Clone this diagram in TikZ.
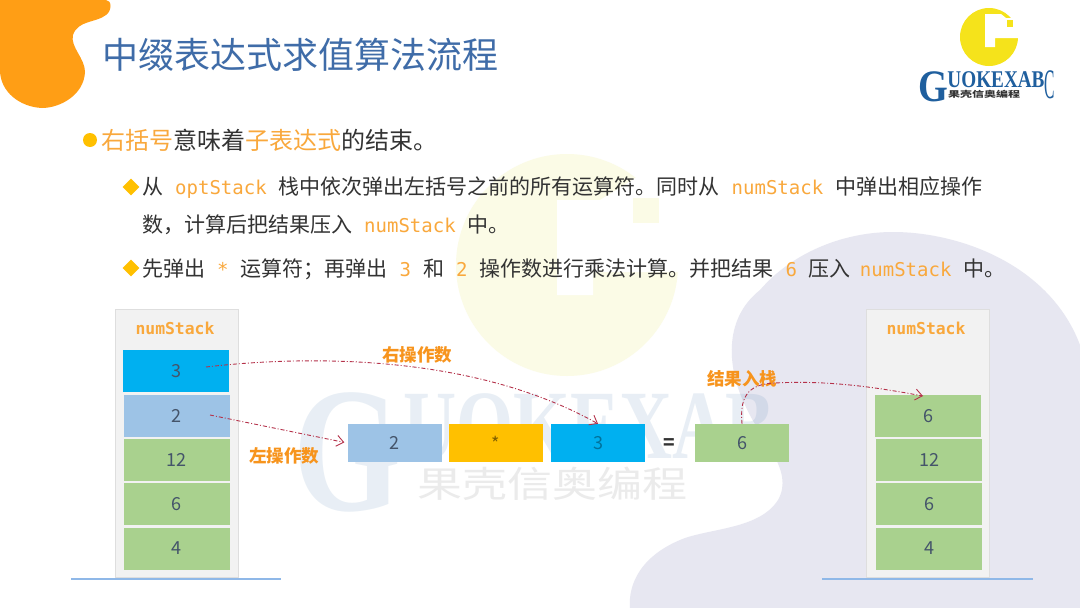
\documentclass[tikz,border=0pt]{standalone}
\usepackage{fontspec}
\setmainfont{Noto Sans CJK SC}
\setmonofont{DejaVu Sans Mono}
\newfontfamily\serifwm{Liberation Serif}
\definecolor{titleblue}{HTML}{3F6CA8}
\definecolor{accent}{HTML}{F9A83C}
\definecolor{blobgray}{HTML}{E7E7F1}
\definecolor{bloborange}{HTML}{FF9E15}
\definecolor{cellblue}{HTML}{00B0F0}
\definecolor{cellpale}{HTML}{9DC3E6}
\definecolor{cellgreen}{HTML}{A9D18E}
\definecolor{cellgold}{HTML}{FFC000}
\definecolor{arrowred}{HTML}{B5324A}
\definecolor{labelorange}{HTML}{F7941D}
\definecolor{logoblue}{HTML}{1F5F9E}
\definecolor{logoyellow}{HTML}{F5E31B}
\definecolor{wmyellow}{HTML}{FBFBE6}
\definecolor{celltext}{HTML}{44546A}
\definecolor{baseblue}{HTML}{8FB8E8}
\usetikzlibrary{arrows.meta,shapes.geometric}
\tikzset{
    stackbox/.style={draw=black!13,fill=black!5,line width=1.2pt,minimum width=123pt,minimum height=268pt,inner sep=0pt},
    cell/.style={minimum width=106pt,minimum height=42pt,inner sep=0pt,text=celltext,font=\fontsize{18}{18}\selectfont},
    opcell/.style={cell,minimum width=94pt,minimum height=38pt},
    stackname/.style={text=accent,font=\ttfamily\bfseries\fontsize{16.4}{16}\selectfont,inner sep=0pt},
    note/.style={text=labelorange,font=\bfseries\fontsize{17.5}{18}\selectfont,inner sep=0pt},
    line1/.style={anchor=base west,inner sep=0pt,text=black!80,font=\fontsize{24}{24}\selectfont},
    line2/.style={anchor=base west,inner sep=0pt,text=black!80,font=\fontsize{21}{21}\selectfont},
    marker/.style={diamond,fill=cellgold,minimum size=17pt,inner sep=0pt},
    wmark/.style={anchor=base,inner sep=0pt,text=logoblue,text opacity=.1},
    logotype/.style={anchor=base,inner sep=0pt,text=logoblue},
    baseline/.style={draw=baseblue,line width=1.1pt},
    flow/.style={draw=arrowred,line width=.9pt,dash pattern=on 4pt off 2pt on 1pt off 2pt,-{Straight Barb[length=7pt,width=11pt]}}
}
\newcommand{\hl}[1]{\textcolor{accent}{#1}}
\newcommand{\code}[1]{\hspace{12pt}\textcolor{accent}{\ttfamily\fontsize{19}{21}\selectfont #1}\hspace{12pt}}
\begin{document}
\begin{tikzpicture}[x=1pt,y=-1pt]
    \useasboundingbox (0,0) rectangle (1080,608);
    \fill[white] (0,0) rectangle (1080,608);

    % background shapes
    \fill[blobgray] (630,608) .. controls (628,585) and (640,555) .. (685,538)
        .. controls (715,528) and (760,528) .. (778,500)
        .. controls (795,470) and (760,440) .. (745,405)
        .. controls (728,370) and (722,320) .. (760,290)
        .. controls (790,255) and (840,232) .. (893,232)
        .. controls (960,232) and (1050,265) .. (1080,345)
        -- (1080,608) -- cycle;
    \fill[bloborange] (0,0) -- (106,0)
        .. controls (112,0) and (112,11) .. (106,15)
        .. controls (96,23) and (78,20) .. (73,35)
        .. controls (70,47) and (85,58) .. (85,72)
        .. controls (84,95) and (60,108) .. (42,108)
        .. controls (20,107) and (0,92) .. (0,70) -- cycle;

    % watermark
    \fill[wmyellow] (567,265) circle (111);
    \fill[white] (557,200) -- (600,200) -- (637,177) -- (690,177) -- (690,272)
        -- (593,272) -- (593,295) -- (557,295) -- cycle;
    \fill[wmyellow] (633,198) rectangle (659,223);
    \node (wmG) at (347,510) [wmark] {\serifwm\bfseries\fontsize{178}{178}\selectfont\scalebox{.78}[1]{G}};
    \node (wmtext) at (589,458) [wmark] {\serifwm\bfseries\fontsize{98}{98}\selectfont\scalebox{.75}[1]{UOKEXAB}};
    \node (wmcn) at (552,497) [anchor=base,inner sep=0pt,text=black!8] {\fontsize{45}{45}\selectfont\scalebox{1}[.8]{果壳信奥编程}};

    % logo
    \fill[logoyellow] (989,37) circle (29);
    \fill[white] (985,14) -- (1001,14) -- (1006,18) -- (1025,18) -- (1025,38)
        -- (995,38) -- (995,47) -- (985,47) -- cycle;
    \fill[logoyellow] (1007,20) rectangle (1013,27);
    \node (logoG) at (933,101) [logotype] {\serifwm\bfseries\fontsize{45}{45}\selectfont\scalebox{.85}[1]{G}};
    \node (logotext) at (996,87) [logotype] {\serifwm\bfseries\fontsize{24}{24}\selectfont\scalebox{.8}[1]{UOKEXAB}};
    \node (logoC) at (1050,98) [logotype] {\serifwm\fontsize{42}{42}\selectfont\scalebox{.37}[1]{C}};
    \node (logocn) at (984,97.5) [anchor=base,inner sep=0pt,text=black!80] {\bfseries\fontsize{12}{12}\selectfont\scalebox{1}[.7]{果壳信奥编程}};

    % title and text
    \node (title) at (102,68) [anchor=base west,inner sep=0pt,text=titleblue,font=\fontsize{36}{36}\selectfont] {中缀表达式求值算法流程};
    \node (dot1) at (90,140) [circle,fill=cellgold,minimum size=14pt,inner sep=0pt] {};
    \node (text1) at (101,149) [line1] {\hl{右括号}意味着\hl{子表达式}的结束。};
    \node (dia1) at (131,187) [marker] {};
    \node (text2) at (142,194) [line2] {从\code{optStack}栈中依次弹出左括号之前的所有运算符。同时从\code{numStack}中弹出相应操作};
    \node (text3) at (142,232) [line2] {数，计算后把结果压入\code{numStack}中。};
    \node (dia2) at (131,268) [marker] {};
    \node (text4) at (142,276) [line2] {先弹出\code{*}运算符；再弹出\code{3}和\code{2}操作数进行乘法计算。并把结果\code{6}压入\hspace{-3pt}\code{numStack}中。};

    % left stack
    \node (leftstack) at (177,443.5) [stackbox] {};
    \node (leftname) at (175,328) [stackname] {numStack};
    \node (l3) at (176,371) [cell,fill=cellblue] {3};
    \node (l2) at (176.5,416) [cell,fill=cellpale] {2};
    \node (l12) at (176.5,460) [cell,fill=cellgreen] {12};
    \node (l6) at (176.5,504) [cell,fill=cellgreen] {6};
    \node (l4) at (176.5,548.5) [cell,fill=cellgreen] {4};
    \coordinate (leftbase1) at (71,579);
    \coordinate (leftbase2) at (281,579);
    \draw[baseline] (leftbase1) -- (leftbase2);

    % right stack
    \node (rightstack) at (928,443.5) [stackbox] {};
    \node (rightname) at (926,328) [stackname] {numStack};
    \node (r6) at (928,416) [cell,fill=cellgreen] {6};
    \node (r12) at (929,460) [cell,fill=cellgreen] {12};
    \node (r6b) at (929,504) [cell,fill=cellgreen] {6};
    \node (r4) at (929,548.5) [cell,fill=cellgreen] {4};
    \coordinate (rightbase1) at (822,579);
    \coordinate (rightbase2) at (1033,579);
    \draw[baseline] (rightbase1) -- (rightbase2);

    % expression
    \node (opa) at (394.5,443) [opcell,fill=cellpale] {2};
    \node (opm) at (496,443) [opcell,fill=cellgold,text=black!50!cellgold] {*};
    \node (opb) at (598,443) [opcell,fill=cellblue,text=black!35!cellblue] {3};
    \node (eq) at (669.5,444) [inner sep=0pt,text=black!80,font=\bfseries\fontsize{19}{19}\selectfont] {=};
    \node (res) at (742,443) [opcell,fill=cellgreen] {6};

    % labels
    \node (rightlabel) at (417,355) [note] {右操作数};
    \node (leftlabel) at (284,456) [note] {左操作数};
    \node (reslabel) at (742,379) [note] {结果入栈};

    % arrows
    \coordinate (from3) at (206,367);
    \coordinate (from2) at (210,415);
    \coordinate (tores) at (923,396);
    \draw[flow] (from3) .. controls (300,356) and (470,352) .. (opb.north);
    \draw[flow,shorten >=3pt] (from2) -- (opa.west);
    \draw[flow] (res.north) .. controls (740,400) and (745,384) .. (775,383) .. controls (830,380) and (880,388) .. (tores);
\end{tikzpicture}
\end{document}
